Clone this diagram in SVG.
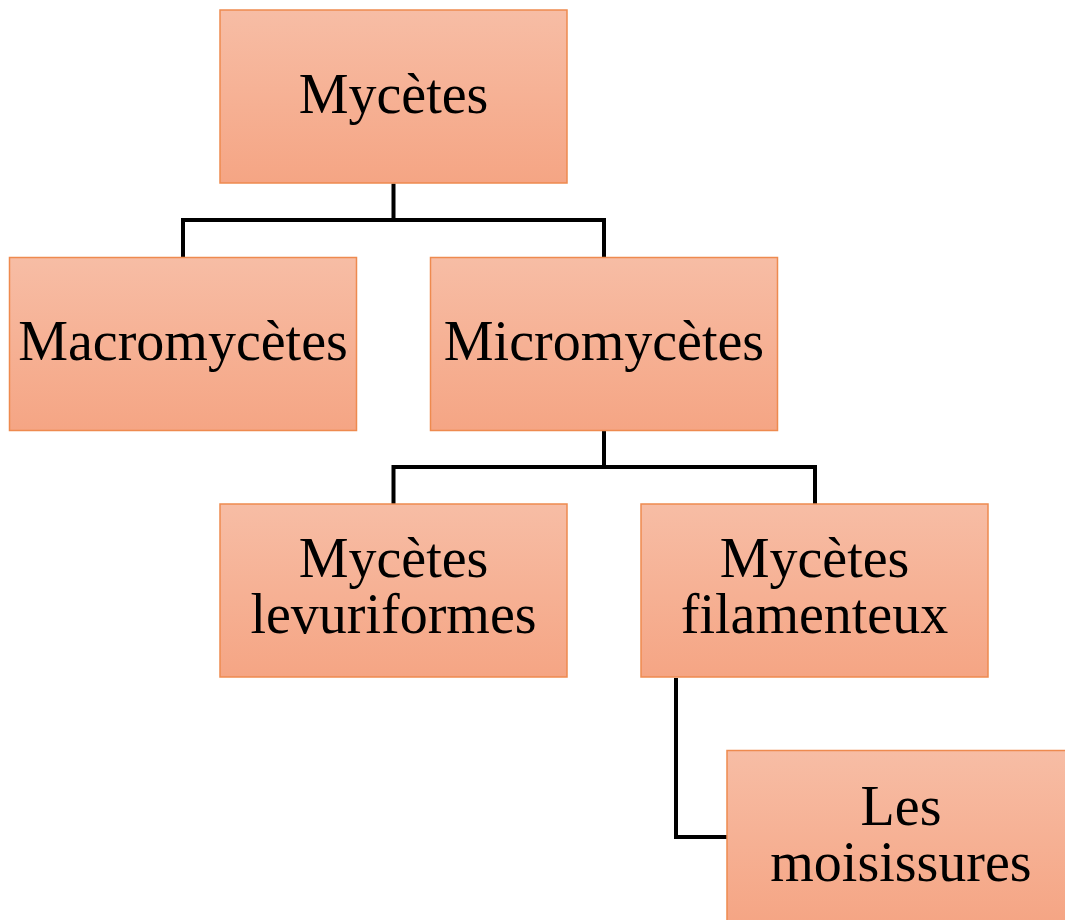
<svg xmlns="http://www.w3.org/2000/svg" width="1065" height="920" viewBox="0 0 1065 920">
  <defs>
    <linearGradient id="g" x1="0" y1="0" x2="0" y2="1">
      <stop offset="0" stop-color="#f7bda5"/>
      <stop offset="1" stop-color="#f5a584"/>
    </linearGradient>
    <style>
      .box { fill: url(#g); stroke: #ee8a4f; stroke-width: 1.5; }
      .t { font-family: "Liberation Serif", "Times New Roman", serif; font-size: 56px; fill: #000; text-anchor: middle; }
      .c { fill: none; stroke: #000; stroke-width: 4; }
    </style>
  </defs>
  <rect width="1065" height="920" fill="#fff"/>
  <g id="connectors">
    <path class="c" d="M393.5,183.5 V220 M183,257 V220 H604 V257"/>
    <path class="c" d="M604,431 V467 M393.5,504 V467 H815 V504"/>
    <path class="c" d="M676,678 V837 H727"/>
  </g>
  <g id="n-mycetes">
    <rect class="box" x="220" y="10" width="347" height="173"/>
    <text class="t" x="393.5" y="112.5">Mycètes</text>
  </g>
  <g id="n-macro">
    <rect class="box" x="9.5" y="257.5" width="347" height="173"/>
    <text class="t" x="183" y="360">Macromycètes</text>
  </g>
  <g id="n-micro">
    <rect class="box" x="430.5" y="257.5" width="347" height="173"/>
    <text class="t" x="604" y="360">Micromycètes</text>
  </g>
  <g id="n-levur">
    <rect class="box" x="220" y="504" width="347" height="173"/>
    <text class="t" x="393.5" y="577">Mycètes</text>
    <text class="t" x="393.5" y="633">levuriformes</text>
  </g>
  <g id="n-filam">
    <rect class="box" x="641" y="504" width="347" height="173"/>
    <text class="t" x="814.5" y="577">Mycètes</text>
    <text class="t" x="814.5" y="633">filamenteux</text>
  </g>
  <g id="n-moisi">
    <rect class="box" x="727" y="750.5" width="347" height="173"/>
    <text class="t" x="901" y="825">Les</text>
    <text class="t" x="901" y="881">moisissures</text>
  </g>
</svg>
